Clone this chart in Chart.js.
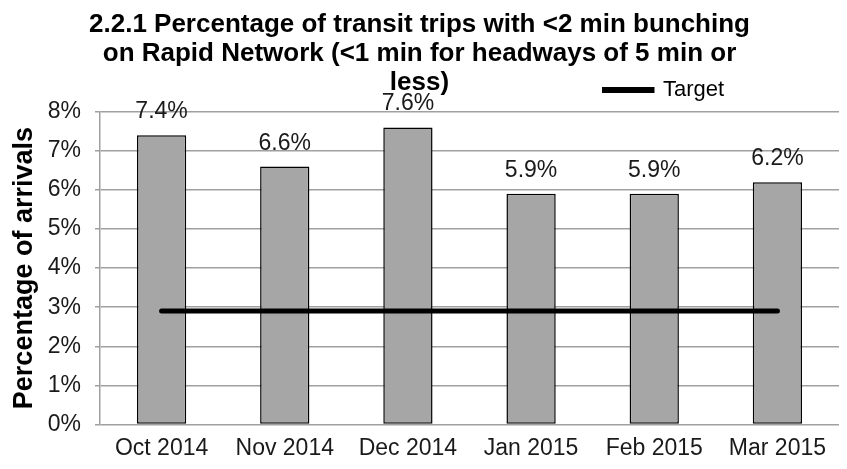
<!DOCTYPE html>
<html>
<head>
<meta charset="utf-8">
<script src="https://cdn.jsdelivr.net/npm/chart.js@4.4.1/dist/chart.umd.min.js"></script>
<style>
  html, body { margin: 0; padding: 0; background: #fff; }
</style>
</head>
<body>
<canvas id="chart" width="847" height="469"></canvas>
<script>
// chart data
var months = ['Oct 2014', 'Nov 2014', 'Dec 2014', 'Jan 2015', 'Feb 2015', 'Mar 2015'];
var bunching = [7.4, 6.6, 7.6, 5.9, 5.9, 6.2];
var target = [2.9, 2.9, 2.9, 2.9, 2.9, 2.9];
var titleLines = [
    '2.2.1 Percentage of transit trips with <2 min bunching',
    'on Rapid Network (<1 min for headways of 5 min or',
    'less)'
];
var yMin = 0, yMax = 8, yStep = 1;

var font = '"Liberation Sans", Arial, sans-serif';

// value labels above the bars
var barLabels = {
    id: 'barLabels',
    afterDatasetsDraw: function(chart) {
        var ctx = chart.ctx;
        var meta = chart.getDatasetMeta(1);
        ctx.save();
        ctx.font = '23px ' + font;
        ctx.fillStyle = '#1a1a1a';
        ctx.textAlign = 'center';
        ctx.textBaseline = 'alphabetic';
        meta.data.forEach(function(bar, i) {
            ctx.fillText(bunching[i].toFixed(1) + '%', bar.x, bar.y - 17);
        });
        ctx.restore();
    }
};

// legend sits beside the last title line, like in the excel chart
var moveLegend = {
    id: 'moveLegend',
    afterLayout: function(chart) {
        var lg = chart.legend;
        lg.top = 79;
        lg.bottom = 105;
        lg.left = 602;
        lg.right = 790;
    }
};

var ctx = document.getElementById('chart').getContext('2d');
var chart = new Chart(ctx, {
    data: {
        labels: months,
        datasets: [{
            type: 'line',
            label: 'Target',
            data: target,
            borderColor: '#000',
            backgroundColor: '#000',
            borderWidth: 5,
            borderCapStyle: 'round',
            pointRadius: 0,
            order: 0
        }, {
            type: 'bar',
            label: 'Bunching',
            data: bunching,
            backgroundColor: '#a6a6a6',
            borderColor: '#000',
            borderWidth: 1.5,
            borderSkipped: false,
            barPercentage: 0.4,
            categoryPercentage: 1,
            order: 1
        }]
    },
    options: {
        responsive: false,
        animation: false,
        layout: { padding: { left: 0, right: 8, top: 0, bottom: -3 } },
        plugins: {
            tooltip: { enabled: false },
            title: {
                display: true,
                text: titleLines,
                color: '#000',
                font: { family: font, size: 26, weight: 'bold', lineHeight: 1.1 },
                padding: { top: 11, bottom: 14 }
            },
            legend: {
                display: true,
                position: 'top',
                align: 'start',
                maxHeight: 1,
                labels: {
                    filter: function(item) { return item.text === 'Target'; },
                    boxWidth: 50,
                    boxHeight: 1,
                    padding: 0,
                    color: '#000',
                    font: { family: font, size: 22 }
                }
            }
        },
        scales: {
            x: {
                grid: { display: false, drawTicks: false },
                border: { display: false },
                ticks: {
                    color: '#1a1a1a',
                    padding: 10,
                    maxRotation: 0,
                    font: { family: font, size: 23 }
                }
            },
            y: {
                min: yMin,
                max: yMax,
                afterFit: function(scale) { scale.width = 100; },
                ticks: {
                    stepSize: yStep,
                    color: '#1a1a1a',
                    padding: 14,
                    font: { family: font, size: 23 },
                    callback: function(v) { return v + '%'; }
                },
                grid: { color: '#a0a0a0', lineWidth: 1.5, tickLength: 5 },
                border: { color: '#a0a0a0', width: 1.5 },
                title: {
                    display: true,
                    text: 'Percentage of arrivals',
                    color: '#000',
                    padding: { top: 8, bottom: 0 },
                    font: { family: font, size: 27, weight: 'bold' }
                }
            }
        }
    },
    plugins: [barLabels, moveLegend]
});
</script>
</body>
</html>
